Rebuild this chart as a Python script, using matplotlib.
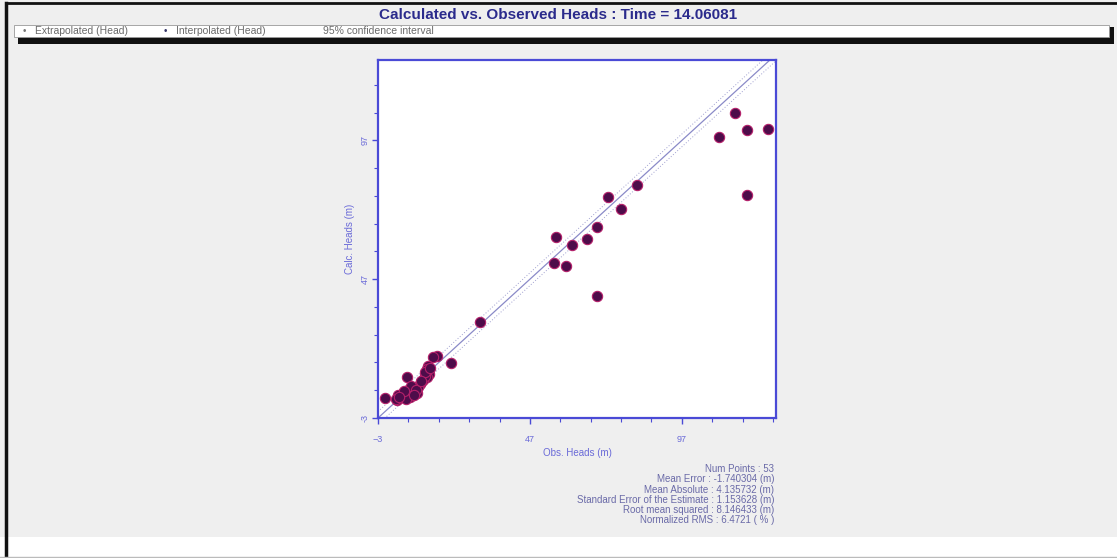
import matplotlib.pyplot as plt
import matplotlib.patches as mpatches
import numpy as np

plt.rcParams['font.family'] = ['Liberation Sans', 'DejaVu Sans']

# observed vs calculated heads (m)
obs_heads = [
    # upper group
    114.4, 118.4, 125.3, 109.2, 118.4,
    # middle group
    82.2, 72.7, 76.9, 69.0, 55.6, 65.8, 60.8, 54.9, 58.8, 69.0,
    # lower cluster
    30.6, 16.4, 15.1, 21.0, 13.4, 13.1, 6.5, 13.8, 13.1, 11.8,
    10.8, 8.2, 8.5, 6.9, 5.2, 4.2, 3.3, -0.7, 7.5, 9.8,
    5.9, 3.6, 12.4, 11.2, 9.0, 7.0, 4.8, 2.8, 6.2, 10.3,
    12.6, 14.0, 7.8, 5.4, 3.9, 9.4, 11.0, 8.8,
]
calc_heads = [
    107.0, 100.6, 101.3, 98.1, 77.2,
    80.8, 76.5, 72.2, 65.7, 62.1, 61.4, 59.2, 52.8, 51.7, 40.9,
    31.5, 19.3, 18.9, 16.8, 15.7, 14.6, 11.7, 12.8, 11.7, 10.7,
    9.2, 8.2, 6.4, 7.1, 6.0, 4.6, 3.5, 4.2, 4.6, 6.0,
    4.2, 5.3, 12.0, 9.8, 7.6, 5.6, 5.0, 4.0, 3.8, 8.0,
    13.6, 15.0, 8.6, 6.8, 4.6, 7.0, 10.2, 5.4,
]

stat_names = ['Num Points', 'Mean Error', 'Mean Absolute',
              'Standard Error of the Estimate', 'Root mean squared',
              'Normalized RMS']
stat_values = ['53', '-1.740304 (m)', '4.135732 (m)', '1.153628 (m)',
               '8.146433 (m)', '6.4721 ( % )']

legend_labels = ['Extrapolated (Head)', 'Interpolated (Head)',
                 '95% confidence interval']

x_min, x_max = -3, 128
y_min, y_max = -3, 126
major_ticks = [-3, 47, 97]
conf_offset = 2.3

title_color = '#2b2b8c'
axis_blue = '#4a4ad6'
label_blue = '#6a6ad8'
stat_color = '#6a6aa8'

fig = plt.figure(figsize=(11.17, 5.58), dpi=100)
fig.patch.set_facecolor('#efefef')

# white strip at the bottom and outer frame
fig.patches.append(mpatches.Rectangle((0, 0), 1, 0.037, transform=fig.transFigure,
                                      facecolor='white', edgecolor='none', zorder=0))
fig.add_artist(plt.Line2D([0.005, 0.005], [0.0, 0.995], transform=fig.transFigure,
                          color='#111111', lw=2.5))
fig.add_artist(plt.Line2D([0.005, 1.0], [0.994, 0.994], transform=fig.transFigure,
                          color='#111111', lw=2.0))
fig.add_artist(plt.Line2D([0.0, 1.0], [0.002, 0.002], transform=fig.transFigure,
                          color='#bbbbbb', lw=1.0))

fig.text(0.5, 0.973, 'Calculated vs. Observed Heads : Time = 14.06081',
         ha='center', va='center', fontsize=11, fontweight='bold',
         color=title_color)

# legend bar with a dark drop shadow
fig.patches.append(mpatches.Rectangle((0.0165, 0.922), 0.98, 0.012,
                                      transform=fig.transFigure,
                                      facecolor='#111111', edgecolor='none'))
fig.patches.append(mpatches.Rectangle((0.991, 0.922), 0.006, 0.03,
                                      transform=fig.transFigure,
                                      facecolor='#111111', edgecolor='none'))
fig.patches.append(mpatches.Rectangle((0.0125, 0.933), 0.98, 0.023,
                                      transform=fig.transFigure,
                                      facecolor='white', edgecolor='#999999', lw=0.6))
leg_y = 0.945
fig.text(0.022, leg_y, '•', ha='center', va='center', fontsize=7, color='#777777')
fig.text(0.031, leg_y, legend_labels[0], ha='left', va='center', fontsize=7.5,
         color='#6a6a6a')
fig.text(0.148, leg_y, '•', ha='center', va='center', fontsize=7, color='#333366')
fig.text(0.158, leg_y, legend_labels[1], ha='left', va='center', fontsize=7.5,
         color='#6a6a6a')
fig.text(0.289, leg_y, legend_labels[2], ha='left', va='center', fontsize=7.5,
         color='#6a6a6a')

ax = fig.add_axes([0.3384, 0.2509, 0.3563, 0.6416])
ax.set_facecolor('white')
ax.set_xlim(x_min, x_max)
ax.set_ylim(y_min, y_max)

# 1:1 line and 95% confidence band
line = np.array([x_min, x_max + 5])
ax.plot(line, line, color='#8a8ac8', lw=0.9, zorder=2)
ax.plot(line, line + conf_offset, color='#a0a0d0', lw=0.7, ls=(0, (1, 2)), zorder=2)
ax.plot(line, line - conf_offset, color='#a0a0d0', lw=0.7, ls=(0, (1, 2)), zorder=2)

ax.scatter(obs_heads, calc_heads, s=55, facecolor='#4e0c4a', edgecolor='#b4206a',
           linewidth=0.8, zorder=3, clip_on=False)

for spine in ax.spines.values():
    spine.set_color(axis_blue)
    spine.set_linewidth(1.6)

ax.set_xticks(major_ticks)
ax.set_yticks(major_ticks)
ax.set_xticks(np.arange(7, x_max, 10), minor=True)
ax.set_yticks(np.arange(7, y_max, 10), minor=True)
ax.tick_params(which='both', colors=axis_blue, labelcolor=label_blue, labelsize=6.5)
ax.tick_params(which='major', length=4, width=1)
ax.tick_params(axis='x', which='major', pad=8)
ax.tick_params(axis='y', which='major', pad=2)
ax.tick_params(which='minor', length=3, width=0.8)
ax.set_yticklabels([str(t) for t in major_ticks], rotation=90, va='center')

ax.set_xlabel('Obs. Heads (m)', fontsize=7, color=label_blue, labelpad=3)
ax.set_ylabel('Calc. Heads (m)', fontsize=7, color=label_blue, labelpad=4)

# summary statistics block
stat_x = 0.693
for i, (name, val) in enumerate(zip(stat_names, stat_values)):
    fig.text(stat_x, 0.159 - i * 0.0183, f'{name} : {val}', ha='right', va='center',
             fontsize=7, color=stat_color)

fig.savefig('out.png', dpi=100, facecolor=fig.get_facecolor())
